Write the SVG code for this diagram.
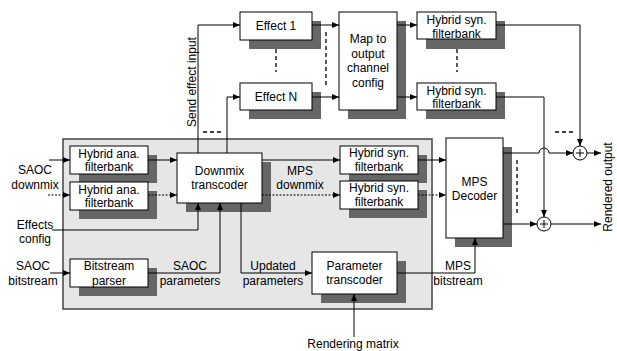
<svg xmlns="http://www.w3.org/2000/svg" width="617" height="351" viewBox="0 0 617 351">
<defs>
<marker id="ah" markerWidth="7" markerHeight="6" refX="7" refY="3" orient="auto" markerUnits="userSpaceOnUse">
<path d="M0,0 L7,3 L0,6 z" fill="#000"/>
</marker>
<style>
.bx{fill:#fff;stroke:#000;stroke-width:1}
.sh{fill:#666}
.t{font-family:"Liberation Sans",Arial,sans-serif;font-size:12px;fill:#000;text-anchor:middle}
.c{fill:none;stroke:#000;stroke-width:1}
.a{marker-end:url(#ah)}
.dot{stroke-dasharray:2,1.5}
.dash{fill:none;stroke:#000;stroke-width:1.3;stroke-dasharray:4,3}
</style>
</defs>
<rect width="617" height="351" fill="#fff"/>
<rect id="sub" x="63" y="139" width="369" height="170" fill="#e6e6e6" stroke="#444" stroke-width="1.5"/>

<g id="hana1"><rect class="sh" x="79" y="155" width="78" height="28"/><rect class="bx" x="70" y="146" width="78" height="28"/><text class="t" x="109" y="157.5">Hybrid ana.</text><text class="t" x="109" y="171">filterbank</text></g>
<g id="hana2"><rect class="sh" x="79" y="191" width="78" height="28"/><rect class="bx" x="70" y="182" width="78" height="28"/><text class="t" x="109" y="193.5">Hybrid ana.</text><text class="t" x="109" y="207">filterbank</text></g>
<g id="downmix"><rect class="sh" x="186" y="162" width="85" height="50"/><rect class="bx" x="177" y="153" width="85" height="50"/><text class="t" x="219.5" y="175">Downmix</text><text class="t" x="219.5" y="189">transcoder</text></g>
<g id="bparser"><rect class="sh" x="79" y="268" width="78" height="28"/><rect class="bx" x="70" y="259" width="78" height="28"/><text class="t" x="109" y="270">Bitstream</text><text class="t" x="109" y="284.5">parser</text></g>
<g id="ptrans"><rect class="sh" x="321" y="261" width="85" height="42"/><rect class="bx" x="312" y="252" width="85" height="42"/><text class="t" x="354.5" y="270">Parameter</text><text class="t" x="354.5" y="284">transcoder</text></g>
<g id="hsyn1"><rect class="sh" x="349" y="155" width="78" height="28"/><rect class="bx" x="340" y="146" width="78" height="28"/><text class="t" x="379" y="157">Hybrid syn.</text><text class="t" x="379" y="170.5">filterbank</text></g>
<g id="hsyn2"><rect class="sh" x="349" y="190" width="78" height="28"/><rect class="bx" x="340" y="181" width="78" height="28"/><text class="t" x="379" y="192">Hybrid syn.</text><text class="t" x="379" y="205.5">filterbank</text></g>
<g id="mpsdec"><rect class="sh" x="455" y="147" width="57" height="100"/><rect class="bx" x="446" y="138" width="57" height="100"/><text class="t" x="474.5" y="186">MPS</text><text class="t" x="474.5" y="200">Decoder</text></g>
<g id="eff1"><rect class="sh" x="249" y="21" width="72" height="28"/><rect class="bx" x="240" y="12" width="72" height="28"/><text class="t" x="276" y="30">Effect 1</text></g>
<g id="effN"><rect class="sh" x="249" y="92" width="72" height="27"/><rect class="bx" x="240" y="83" width="72" height="27"/><text class="t" x="276" y="101">Effect N</text></g>
<g id="map"><rect class="sh" x="348" y="21" width="58" height="98"/><rect class="bx" x="339" y="12" width="58" height="98"/><text class="t" x="368" y="43">Map to</text><text class="t" x="368" y="58">output</text><text class="t" x="368" y="72">channel</text><text class="t" x="368" y="87">config</text></g>
<g id="hsynT1"><rect class="sh" x="426" y="21" width="79" height="28"/><rect class="bx" x="417" y="12" width="79" height="27"/><text class="t" x="456.5" y="24">Hybrid syn.</text><text class="t" x="456.5" y="37.5">filterbank</text></g>
<g id="hsynT2"><rect class="sh" x="426" y="92" width="79" height="27"/><rect class="bx" x="417" y="83" width="79" height="27"/><text class="t" x="456.5" y="94.5">Hybrid syn.</text><text class="t" x="456.5" y="107.5">filterbank</text></g>
<g id="sum1"><circle cx="580" cy="153" r="7" fill="#fff" stroke="#000"/><path d="M576,153H584M580,149V157" stroke="#000" stroke-width="1"/></g>
<g id="sum2"><circle cx="544" cy="224" r="7" fill="#fff" stroke="#000"/><path d="M540,224H548M544,220V228" stroke="#000" stroke-width="1"/></g>

<g id="labels">
<text class="t" x="35" y="174">SAOC</text><text class="t" x="35" y="189">downmix</text>
<text class="t" x="35" y="229">Effects</text><text class="t" x="35" y="243">config</text>
<text class="t" x="33" y="270">SAOC</text><text class="t" x="33" y="284.5">bitstream</text>
<text class="t" x="300" y="175">MPS</text><text class="t" x="300" y="189">downmix</text>
<text class="t" x="190" y="270">SAOC</text><text class="t" x="190" y="284.5">parameters</text>
<text class="t" x="273" y="270">Updated</text><text class="t" x="273" y="284.5">parameters</text>
<text class="t" x="458" y="270">MPS</text><text class="t" x="458" y="284.5">bitstream</text>
<text class="t" x="353" y="348">Rendering matrix</text>
<text class="t" transform="translate(196,82) rotate(-90)">Send effect input</text>
<text class="t" transform="translate(612,187) rotate(-90)">Rendered output</text>
</g>

<g id="connectors">
<path class="c a" d="M49,160H70"/>
<path class="c a dot" d="M48,195H70"/>
<path class="c a" d="M148,160H177"/>
<path class="c a dot" d="M148,195H177"/>
<path class="c a" d="M52,230H198V203"/>
<path class="c a" d="M50,273H70"/>
<path class="c a" d="M148,273H220V203"/>
<path class="c a" d="M198,153V25H240"/>
<path class="c a" d="M227,153V97H240"/>
<path class="c a" d="M262,160H340"/>
<path class="c a dot" d="M262,195H340"/>
<path class="c a" d="M241,203V273H312"/>
<path class="c a" d="M418,160H446"/>
<path class="c a dot" d="M418,195H446"/>
<path class="c a" d="M397,273H475V238"/>
<path class="c a" d="M354,337V294"/>
<path class="c a" d="M312,25H339"/>
<path class="c a" d="M312,97H339"/>
<path class="c a" d="M397,25H417"/>
<path class="c a" d="M397,97H417"/>
<path class="c a" d="M496,25H580V146"/>
<path class="c a" d="M496,97H544V217"/>
<path class="c a" d="M503,153H539A5,5 0 0 1 549,153H573"/>
<path class="c a" d="M587,153H601"/>
<path class="c a" d="M503,224H537"/>
<path class="c a" d="M551,224H601"/>
<path class="dash" d="M276,49V72"/>
<path class="dash" d="M326,32V85"/>
<path class="dash" d="M457,49V72"/>
<path class="dash" d="M517,160V213"/>
<path class="dash" d="M203,132H223"/>
<path class="dash" d="M555,132H573"/>
</g>
</svg>
